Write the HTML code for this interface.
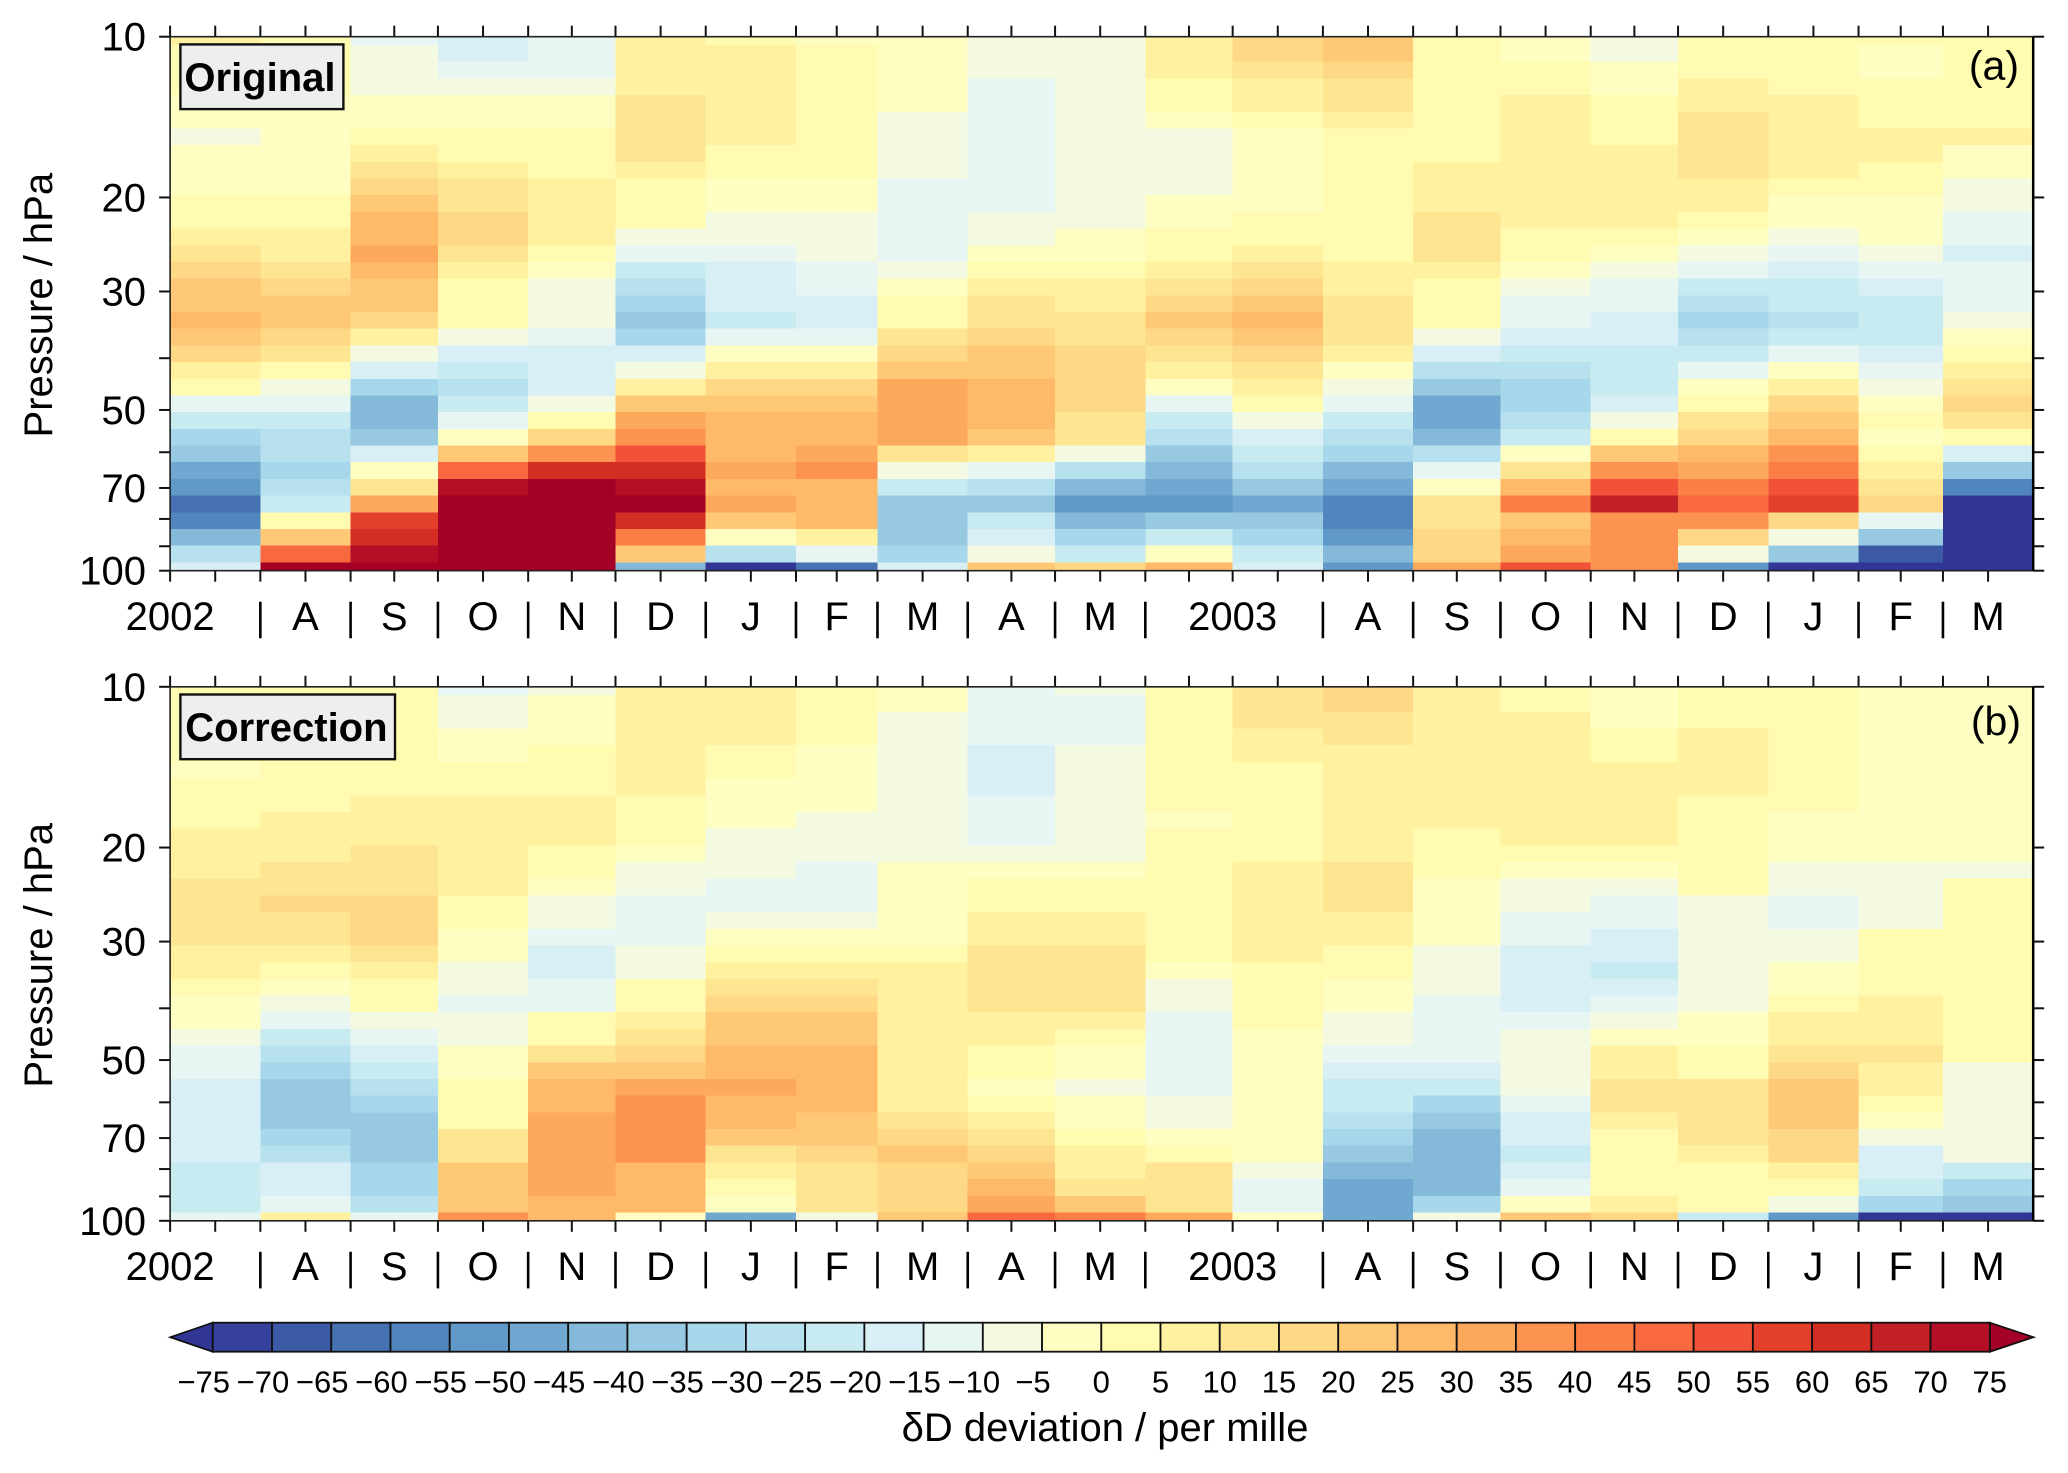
<!DOCTYPE html>
<html lang="en">
<head>
<meta charset="utf-8">
<title>δD deviation time series</title>
<style>
html,body{margin:0;padding:0;background:#fff;}
svg{display:block;font-family:"Liberation Sans",Arial,sans-serif;}
</style>
</head>
<body>
<svg id="chart" xmlns="http://www.w3.org/2000/svg" width="2068" height="1473" viewBox="0 0 2068 1473"></svg>
<script>
/* ---------- chart data ---------- */
const monthLabels = ["2002","A","S","O","N","D","J","F","M","A","M","","2003","A","S","O","N","D","J","F","M"];
const monthDays = [31,31,30,31,30,31,31,28,31,30,31,30,31,31,30,31,30,31,31,29,31];
const pressureTicks = [10,20,30,40,50,60,70,80,90,100];
const pressureLabels = [10,20,30,50,70,100];
const colorbarTicks = [-75,-70,-65,-60,-55,-50,-45,-40,-35,-30,-25,-20,-15,-10,-5,0,5,10,15,20,25,30,35,40,45,50,55,60,65,70,75];

/* delta-D deviation per month (columns) and pressure level (33 levels, 10 to 100 hPa) */
const original = [
[7,2,2,2,-2,-2,-7,-2, -2,-2,2,2,7,12,17,22, 22,27,22,17,7,2,-12,-22, -32,-37,-47,-52,-62,-57,-42,-27, -17],
[2,2,2,2,-2,-2,-2,-2, -2,-2,2,2,7,7,12,17, 22,22,17,12,2,-7,-12,-22, -27,-27,-32,-27,-22,2,22,47, 77],
[-12,-7,-7,-7,-2,-2,2,7, 12,17,22,27,27,32,27,22, 22,17,7,-7,-17,-32,-42,-42, -37,-17,-2,12,32,57,62,72, 77],
[-17,-17,-12,-7,-2,-2,2,2, 7,12,12,17,17,12,7,2, 2,2,-7,-17,-22,-27,-22,-12, -2,22,47,72,77,77,77,77, 77],
[-12,-12,-12,-7,-2,-2,2,2, 2,7,7,7,7,2,-2,-7, -7,-7,-12,-17,-17,-17,-7,2, 17,37,62,77,77,77,77,77, 77],
[7,7,7,7,12,12,12,12, 7,2,2,2,-7,-12,-22,-27, -32,-37,-32,-17,-7,7,22,32, 37,52,62,72,77,62,42,22, -42],
[2,7,7,7,7,7,7,2, 2,-2,-2,-7,-7,-12,-17,-17, -17,-22,-12,-2,7,17,22,27, 27,27,32,27,32,22,-2,-27, -77],
[-2,2,2,2,2,2,2,2, 2,-2,-2,-7,-7,-7,-12,-12, -17,-17,-12,-2,7,17,22,27, 27,32,37,27,27,27,7,-12, -62],
[-2,-2,-2,-2,-2,-7,-7,-7, -7,-12,-12,-12,-12,-12,-7,-2, 2,2,12,17,22,32,32,32, 32,12,-7,-22,-37,-37,-37,-32, -17],
[-7,-7,-7,-12,-12,-12,-12,-12, -12,-12,-12,-7,-7,-2,2,7, 12,12,17,22,22,27,27,27, 22,7,-12,-27,-37,-22,-17,-7, 22],
[-7,-7,-7,-7,-7,-7,-7,-7, -7,-7,-7,-7,-2,-2,2,7, 7,12,12,17,17,17,17,12, 12,-7,-27,-42,-52,-42,-32,-22, 17],
[7,7,7,2,2,-2,-7,-7, -7,-7,-2,-2,2,2,7,12, 17,22,17,12,7,-2,-12,-22, -27,-37,-42,-47,-52,-37,-22,-2, 27],
[17,17,12,7,7,2,-2,-2, -2,-2,-2,2,2,7,12,17, 22,27,22,17,12,7,2,-7, -17,-22,-27,-37,-47,-37,-32,-22, -17],
[22,22,17,12,12,7,2,2, 2,2,2,2,2,2,7,7, 12,12,12,7,-2,-7,-12,-22, -27,-32,-42,-47,-57,-57,-52,-42, -52],
[2,2,2,2,2,2,2,2, 7,7,7,12,12,12,7,2, 2,2,-7,-17,-27,-37,-47,-47, -42,-27,-12,-2,12,12,17,17, 32],
[-2,-2,2,2,7,7,7,7, 7,7,7,7,2,2,-2,-7, -12,-12,-17,-22,-27,-32,-32,-27, -22,-2,12,27,42,22,27,32, 52],
[-7,-7,-2,-2,2,2,2,7, 7,7,7,7,2,-2,-7,-12, -12,-17,-17,-22,-22,-22,-17,-7, 2,22,37,52,67,37,37,37, 37],
[2,2,2,7,7,12,12,12, 12,7,7,2,-2,-7,-12,-22, -27,-32,-27,-22,-12,-2,2,12, 17,27,32,42,47,37,17,-7, -52],
[2,2,2,2,7,7,7,7, 7,2,-2,-2,-7,-12,-17,-22, -22,-27,-22,-12,-2,7,17,22, 27,37,42,52,57,17,-7,-37, -77],
[2,-2,-2,2,2,2,7,7, 2,2,-2,-2,-2,-7,-12,-17, -22,-22,-22,-17,-12,-7,-2,2, -2,2,7,12,17,-12,-37,-67, -77],
[2,2,2,2,2,2,7,-2, -2,-7,-7,-12,-12,-17,-12,-12, -12,-7,-2,2,7,12,17,12, 2,-17,-37,-57,-77,-77,-77,-77, -77]
];
const correction = [
[2,2,2,2,2,-2,2,2, 2,7,7,7,12,12,12,12, 7,7,2,-2,-2,-7,-12,-12, -17,-17,-17,-17,-17,-22,-22,-22, -12],
[2,2,2,2,2,2,2,2, 7,7,7,12,12,17,12,12, 7,2,-2,-7,-12,-22,-27,-32, -37,-37,-37,-32,-27,-17,-17,-12, 7],
[2,2,2,2,2,2,2,7, 7,7,12,12,12,17,17,17, 12,7,2,2,-7,-12,-17,-22, -27,-32,-37,-37,-37,-32,-32,-27, -12],
[-12,-7,-7,-2,-2,2,2,7, 7,7,7,7,7,2,2,-2, -2,-7,-7,-12,-7,-7,-2,-2, 2,2,2,12,12,22,22,22, 37],
[-7,-2,-2,-2,2,2,2,7, 7,7,2,2,-2,-7,-7,-12, -17,-17,-12,-12,2,2,12,22, 27,27,32,32,32,32,32,27, 27],
[7,7,7,7,7,7,7,2, 2,2,-2,-7,-7,-12,-12,-12, -7,-7,2,2,7,12,17,22, 32,37,37,37,37,27,27,27, -2],
[7,7,7,7,2,2,-2,-2, -2,-7,-7,-7,-12,-12,-7,-2, 2,7,12,17,22,22,27,27, 32,27,27,22,12,7,2,-2, -47],
[2,2,2,2,-2,-2,-2,-2, -7,-7,-7,-12,-12,-12,-7,-2, 2,7,12,17,22,22,27,27, 27,27,22,22,17,12,12,12, -7],
[-2,-2,-7,-7,-7,-7,-7,-7, -7,-7,-7,-2,-2,-2,-2,-2, 2,7,7,7,7,7,7,7, 7,7,12,17,22,17,17,17, 22],
[-12,-12,-12,-12,-17,-17,-17,-12, -12,-12,-7,-2,2,2,7,7, 12,12,12,12,7,7,2,2, -2,2,7,12,17,22,27,32, 47],
[-7,-12,-12,-12,-7,-7,-7,-7, -7,-7,-7,-2,2,2,7,7, 12,12,12,12,7,2,-2,-2, -7,-2,-2,2,7,7,12,22, 42],
[2,2,2,2,2,2,2,2, -2,2,2,2,2,2,2,2, 2,-2,-7,-7,-12,-12,-12,-12, -12,-7,-7,-2,2,12,12,12, 32],
[12,12,12,7,7,2,2,2, 2,2,2,7,7,7,7,7, 7,2,2,2,2,-2,-2,-2, -2,-2,-2,-2,-2,-7,-12,-12, -2],
[17,17,12,12,7,7,7,7, 7,7,7,12,12,12,7,7, 2,2,-2,-2,-7,-7,-12,-17, -22,-22,-27,-32,-37,-42,-47,-47, -47],
[7,7,7,7,7,7,7,7, 7,2,2,2,-2,-2,-2,-2, -7,-7,-7,-12,-12,-12,-12,-17, -22,-32,-37,-42,-42,-42,-42,-32, -7],
[2,2,7,7,7,7,7,7, 7,7,2,-2,-7,-7,-12,-12, -17,-17,-17,-17,-12,-7,-7,-7, -7,-12,-17,-17,-22,-17,-12,-2, 22],
[-2,-2,-2,2,2,7,7,7, 7,7,2,-2,-7,-12,-12,-17, -17,-22,-17,-12,-7,-2,7,7, 12,12,7,2,2,2,2,7, 17],
[2,2,2,7,7,7,7,2, 2,2,2,2,2,-7,-7,-7, -7,-7,-7,-7,-2,-2,2,2, 12,12,12,12,7,2,2,2, -22],
[2,2,2,2,2,2,2,2, -2,-2,-2,-7,-7,-12,-12,-7, -7,-2,-2,2,7,7,12,17, 22,22,22,17,17,7,2,-7, -52],
[-2,-2,-2,-2,-2,-2,-2,-2, -2,-2,-2,-7,-7,-7,-7,2, 2,2,2,7,7,7,12,7, 7,2,-2,-7,-17,-17,-22,-32, -77],
[-2,-2,-2,-2,-2,-2,-2,-2, -2,-2,-2,-7,2,2,2,2, 2,2,2,2,2,2,2,-7, -7,-7,-7,-7,-7,-22,-32,-37, -77]
];

/* ---------- colour scale ---------- */
const underColor = "#313695";
const overColor = "#a50026";
const binColors = ["#36419d","#3c59a6","#4671b2","#5085be","#6099c8","#70a8d2","#84b9da","#97cae2","#a6d7ea","#b7e1ef","#c8eaf1","#d8eff6","#e7f6f2","#f3fae1","#fefec2","#fffbb0","#fff1a0","#fee592","#fed884","#fec877","#feb969","#fda95c","#fd9350","#fb7e46","#f8693f","#f15136","#e33f2a","#d42e24","#c02026","#b40f26"];
function colorOf(v){
  if(v < -75) return underColor;
  if(v >= 75) return overColor;
  return binColors[Math.floor((v + 75) / 5)];
}

/* ---------- layout and axis functions ---------- */
const NS = "http://www.w3.org/2000/svg";
const svg = document.getElementById("chart");
const plotLeft = 170.1, plotRight = 2033.2, plotHeight = 534;
const totalDays = monthDays.reduce((a, b) => a + b, 0);
function dayX(day){ return plotLeft + day * (plotRight - plotLeft) / totalDays; }
function monthStart(i){ let d = 0; for(let k = 0; k < i; k++) d += monthDays[k]; return d; }
function pressureY(top, p){ return top + (Math.log10(p) - 1) * plotHeight; }
function make(parent, tag, attrs, text){
  const el = document.createElementNS(NS, tag);
  for(const k in attrs) el.setAttribute(k, attrs[k]);
  if(text !== undefined) el.textContent = text;
  parent.appendChild(el);
  return el;
}

function drawPanel(name, top, values, boxText, boxW, boxTextX, letter, letterEndX, letterBase, boxH, textBase){
  const bottom = top + plotHeight;
  const g = make(svg, "g", {});
  
  

  const levels = values[0].length;
  values.forEach(function(col, c){
    const x0 = dayX(monthStart(c));
    const x1 = dayX(monthStart(c) + monthDays[c]);
    col.forEach(function(v, r){
      const upper = Math.max(10, Math.pow(10, 1 + (r - 0.5) / (levels - 1)));
      const lower = Math.min(100, Math.pow(10, 1 + (r + 0.5) / (levels - 1)));
      const y0 = pressureY(top, upper);
      const y1 = pressureY(top, lower);
      const cell = make(g, "rect", {x:x0, y:y0, width:x1 - x0, height:y1 - y0, fill:colorOf(v), "shape-rendering":"crispEdges"});
      
      
    });
  });

  /* x ticks: month boundaries and mid-month, top and bottom */
  const ticksX = make(g, "g", {stroke:"#111", "stroke-width":2});
  
  
  monthDays.forEach(function(n, i){
    [monthStart(i), monthStart(i) + n / 2].forEach(function(d){
      const x = dayX(d);
      make(ticksX, "line", {x1:x, x2:x, y1:top - 11, y2:top});
      make(ticksX, "line", {x1:x, x2:x, y1:bottom, y2:bottom + 11});
    });
  });

  /* y ticks on both sides */
  const ticksY = make(g, "g", {stroke:"#111", "stroke-width":2});
  
  
  pressureTicks.forEach(function(p){
    const y = pressureY(top, p);
    make(ticksY, "line", {x1:plotLeft - 11, x2:plotLeft, y1:y, y2:y});
    make(ticksY, "line", {x1:plotRight, x2:plotRight + 11, y1:y, y2:y});
  });
  pressureLabels.forEach(function(p){
    const t = make(g, "text", {x:146, y:pressureY(top, p) + 14, "font-size":40, "text-anchor":"end", fill:"#000"}, String(p));
    
    
  });

  /* spines */
  const frame = make(g, "path", {d:"M" + plotLeft + " " + top + "H" + plotRight + "V" + bottom + "H" + plotLeft + "Z", fill:"none", stroke:"#222", "stroke-width":1.6});
  
  
  const rightSpine = make(g, "line", {x1:plotRight, x2:plotRight, y1:top, y2:bottom, stroke:"#000", "stroke-width":2.5});
  
  

  /* month labels and separators */
  const base = bottom + 59.3;
  monthLabels.forEach(function(label, i){
    const isYear = label.length === 4;
    const d = isYear ? monthStart(i) : monthStart(i) + monthDays[i] / 2;
    if(label){
      const t = make(g, "text", {x:dayX(d), y:base, "font-size":40, "text-anchor":"middle", fill:"#000"}, label);
      
      
    }
    if(i > 0 && !isYear){
      const sx = dayX(monthStart(i));
      const sep = make(g, "line", {x1:sx, x2:sx, y1:bottom + 31, y2:bottom + 67.6, stroke:"#000", "stroke-width":2.6});
      
      
    }
  });

  const title = make(g, "text", {x:0, y:0, transform:"translate(52," + (top + 268.5) + ") rotate(-90)", "font-size":40, "text-anchor":"middle", fill:"#000"}, "Pressure / hPa");
  
  

  const box = make(g, "rect", {x:180.4, y:top + 7.7, width:boxW, height:boxH, fill:"#eeeeee", stroke:"#111", "stroke-width":2.4});
  
  
  const boxLabel = make(g, "text", {x:boxTextX, y:textBase, "font-size":40, "font-weight":"bold", fill:"#000"}, boxText);
  
  
  const tag = make(g, "text", {x:letterEndX, y:letterBase, "font-size":41, "text-anchor":"end", fill:"#000"}, letter);
  
  
}

drawPanel("original", 36.7, original, "Original", 163, 184.4, "(a)", 2019, 79.5, 64.7, 91);
drawPanel("correction", 686.8, correction, "Correction", 214.6, 185.3, "(b)", 2021, 735, 64.7, 741);

/* ---------- colour bar ---------- */
const barLeft = 212.8, barRight = 1989.8, barTop = 1322.7, barBottom = 1351.7;
function barX(v){ return barLeft + (v + 75) * (barRight - barLeft) / 150; }
const bar = make(svg, "g", {});


const leftArrow = make(bar, "path", {d:"M" + barLeft + " " + barTop + "L170.4 " + ((barTop + barBottom) / 2) + "L" + barLeft + " " + barBottom + "Z", fill:underColor, stroke:"#111", "stroke-width":1.8});


const rightArrow = make(bar, "path", {d:"M" + barRight + " " + barTop + "L2033.4 " + ((barTop + barBottom) / 2) + "L" + barRight + " " + barBottom + "Z", fill:overColor, stroke:"#111", "stroke-width":1.8});


binColors.forEach(function(color, i){
  const x0 = barX(colorbarTicks[i]);
  const x1 = barX(colorbarTicks[i + 1]);
  const swatch = make(bar, "rect", {x:x0, y:barTop, width:x1 - x0, height:barBottom - barTop, fill:color, stroke:"#111", "stroke-width":1.8});
  
  
});
colorbarTicks.forEach(function(v){
  const digits = String(Math.abs(v)).length * 0.556 * 31;
  const label = (v < 0 ? "\u2212" : "") + Math.abs(v);
  const t = make(bar, "text", {x:barX(v) + digits / 2, y:1392.5, "font-size":31, "text-anchor":"end", fill:"#000"}, label);
  
  
});
const barTitle = make(svg, "text", {x:1105, y:1441, "font-size":40, "text-anchor":"middle", fill:"#000"}, "\u03b4D deviation / per mille");


</script>
</body>
</html>
